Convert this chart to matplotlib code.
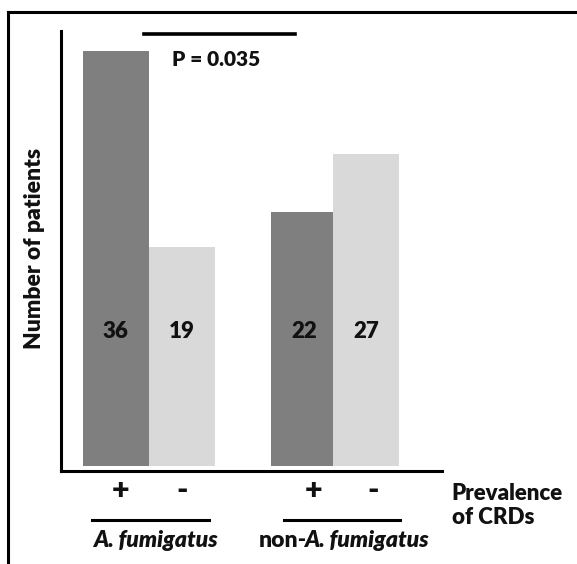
import matplotlib
matplotlib.use("Agg")
import matplotlib.pyplot as plt
from matplotlib.lines import Line2D

plt.rcParams['font.family'] = ['Lato', 'DejaVu Sans']
plt.rcParams['font.weight'] = 'bold'

# data
counts = [36, 19, 22, 27]
signs = ['+', '-', '+', '-']
groups = ['A. fumigatus', 'non-A. fumigatus']
p_text = 'P = 0.035'

colors = ['#7f7f7f', '#d9d9d9', '#7f7f7f', '#d9d9d9']
xpos = [0.83, 1.83, 3.68, 4.62]
group_x = [1.43, 4.35]
tc = '#111111'

fig = plt.figure(figsize=(5.77, 5.64), dpi=100)
ax = fig.add_axes([61/577, 93/564, 381/577, 440/564])

ax.bar(xpos, counts, width=1.0, color=colors, edgecolor='none')
ax.set_xlim(0, 381/66)
ax.set_ylim(-0.43, 37.7)

for s in ['top', 'right']:
    ax.spines[s].set_visible(False)
for s in ['left', 'bottom']:
    ax.spines[s].set_linewidth(2.2)
ax.set_xticks([])
ax.set_yticks([])

# value labels
for x, c in zip(xpos, counts):
    ax.text(x, 11.7, str(c), ha='center', va='center', fontsize=16,
            fontweight='heavy', color=tc)

# +/- labels
sign_x = [0.91, 1.83, 3.82, 4.73]
for x, s in zip(sign_x, signs):
    ax.text(x, -2.1, s, ha='center', va='center', fontsize=22,
            fontweight='heavy', color=tc, clip_on=False)

# group lines and labels
ax.plot([0.47, 2.24], [-4.7, -4.7], color='black', lw=2.2, clip_on=False)
ax.plot([3.38, 5.14], [-4.7, -4.7], color='black', lw=2.2, clip_on=False)
ax.text(group_x[0], -6.45, groups[0], ha='center', va='center', fontsize=16.5,
        fontweight='heavy', fontstyle='italic', color=tc, clip_on=False)
ax.text(group_x[1] - 0.63, -6.45, 'non-', ha='right', va='center', fontsize=16.5,
        fontweight='heavy', color=tc, clip_on=False)
ax.text(group_x[1] - 0.67, -6.45, 'A. fumigatus', ha='left', va='center',
        fontsize=16.5, fontweight='heavy', fontstyle='italic', color=tc,
        clip_on=False)

ax.text(5.92, -3.4, 'Prevalence\nof CRDs', ha='left', va='center', fontsize=16,
        fontweight='heavy', color=tc, clip_on=False, linespacing=1.2)

# significance
ax.plot([1.26, 3.55], [37.4, 37.4], color='black', lw=2.6, clip_on=False)
ax.text(2.35, 35.2, p_text, ha='center', va='center', fontsize=15,
        fontweight='heavy', color=tc)

fig.text(35/577, 1 - 248/564, 'Number of patients', rotation=90, ha='center',
         va='center', fontsize=16.5, fontweight='heavy', color=tc)

# outer frame
fig.add_artist(Line2D([8/577, 1.0], [1 - 12/564, 1 - 12/564], color='black', lw=2.2))
fig.add_artist(Line2D([8/577, 8/577], [0, 1 - 12/564], color='black', lw=2.2))

fig.savefig('out.png', dpi=100)
